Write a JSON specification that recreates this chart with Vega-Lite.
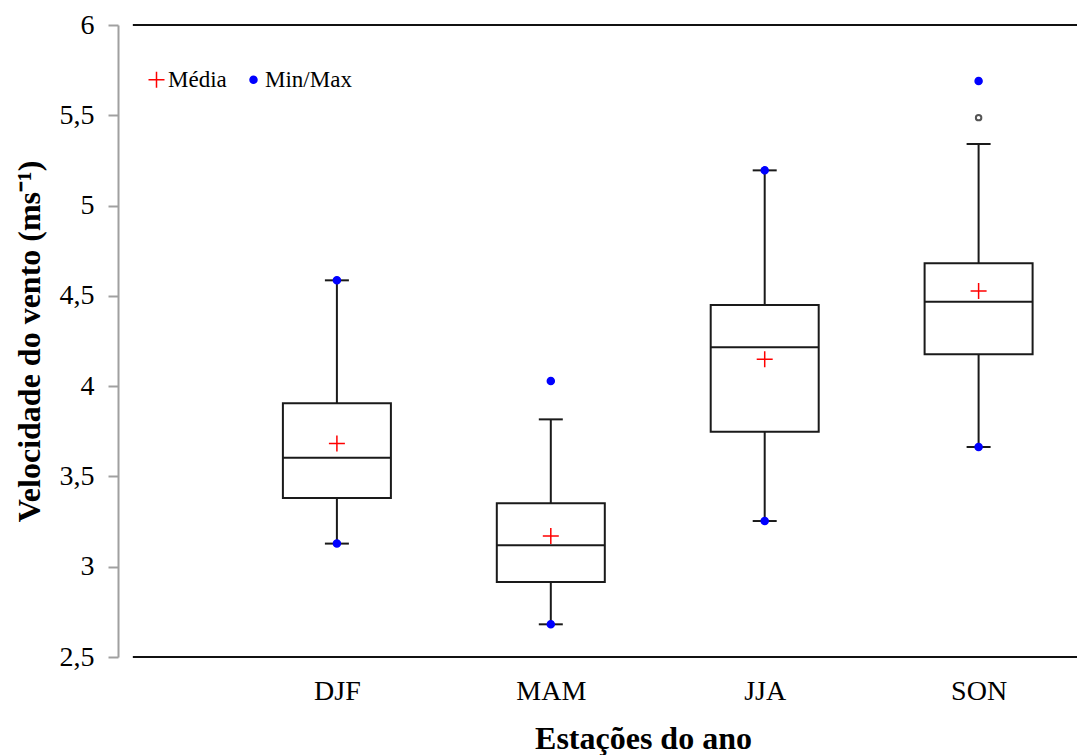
{
  "$schema": "https://vega.github.io/schema/vega-lite/v6.json",
  "autosize": {"type": "none"},
  "width": 964,
  "height": 632,
  "padding": {"left": 118, "top": 25, "right": 0, "bottom": 98},
  "background": "white",
  "config": {
    "view": {"stroke": null},
    "font": "Liberation Serif",
    "tick": {"opacity": 1},
    "axis": {"grid": false, "labelFont": "Liberation Serif", "titleFont": "Liberation Serif", "labelColor": "#000", "titleColor": "#000"},
    "legend": {
      "orient": "none",
      "legendX": 27,
      "legendY": 43,
      "direction": "horizontal",
      "labelFont": "Liberation Serif",
      "labelFontSize": 23,
      "labelColor": "#000",
      "labelOffset": 0,
      "columnPadding": 15,
      "symbolStrokeWidth": 1.5
    }
  },
  "datasets": {
    "boxes": [
      {"season": "DJF", "pos": 1, "lo": 3.128, "q1": 3.381, "med": 3.604, "q3": 3.905, "hi": 4.586},
      {"season": "MAM", "pos": 2, "lo": 2.681, "q1": 2.915, "med": 3.119, "q3": 3.351, "hi": 3.816},
      {"season": "JJA", "pos": 3, "lo": 3.253, "q1": 3.748, "med": 4.215, "q3": 4.449, "hi": 5.195},
      {"season": "SON", "pos": 4, "lo": 3.663, "q1": 4.176, "med": 4.468, "q3": 4.680, "hi": 5.341}
    ],
    "pts": [
      {"pos": 1, "value": 3.682, "kind": "Média"},
      {"pos": 2, "value": 3.170, "kind": "Média"},
      {"pos": 3, "value": 4.149, "kind": "Média"},
      {"pos": 4, "value": 4.527, "kind": "Média"},
      {"pos": 1, "value": 3.128, "kind": "Min/Max"},
      {"pos": 1, "value": 4.586, "kind": "Min/Max"},
      {"pos": 2, "value": 2.681, "kind": "Min/Max"},
      {"pos": 2, "value": 4.028, "kind": "Min/Max"},
      {"pos": 3, "value": 3.253, "kind": "Min/Max"},
      {"pos": 3, "value": 5.195, "kind": "Min/Max"},
      {"pos": 4, "value": 3.663, "kind": "Min/Max"},
      {"pos": 4, "value": 5.690, "kind": "Min/Max"}
    ],
    "outliers": [
      {"pos": 4, "value": 5.487}
    ],
    "frame": [
      {"v": 6},
      {"v": 2.5}
    ]
  },
  "layer": [
    {
      "data": {"name": "frame"},
      "mark": {"type": "rule", "color": "#111", "strokeWidth": 2},
      "encoding": {
        "y": {"field": "v", "type": "quantitative"},
        "x": {"datum": 0.046},
        "x2": {"datum": 4.46}
      }
    },
    {
      "data": {"name": "boxes"},
      "mark": {"type": "rule", "color": "#1a1a1a", "strokeWidth": 2},
      "encoding": {
        "x": {"field": "pos", "type": "quantitative"},
        "y": {"field": "lo", "type": "quantitative"},
        "y2": {"field": "hi"}
      }
    },
    {
      "data": {"name": "boxes"},
      "mark": {"type": "tick", "orient": "horizontal", "size": 24, "thickness": 2, "color": "#1a1a1a", "opacity": 1},
      "encoding": {
        "x": {"field": "pos", "type": "quantitative"},
        "y": {"field": "lo", "type": "quantitative"}
      }
    },
    {
      "data": {"name": "boxes"},
      "mark": {"type": "tick", "orient": "horizontal", "size": 24, "thickness": 2, "color": "#1a1a1a", "opacity": 1},
      "encoding": {
        "x": {"field": "pos", "type": "quantitative"},
        "y": {"field": "hi", "type": "quantitative"}
      }
    },
    {
      "data": {"name": "boxes"},
      "mark": {"type": "bar", "size": 108, "fill": "white", "stroke": "#1a1a1a", "strokeWidth": 2},
      "encoding": {
        "x": {"field": "pos", "type": "quantitative"},
        "y": {"field": "q1", "type": "quantitative"},
        "y2": {"field": "q3"}
      }
    },
    {
      "data": {"name": "boxes"},
      "mark": {"type": "tick", "orient": "horizontal", "size": 108, "thickness": 2, "color": "#1a1a1a", "opacity": 1},
      "encoding": {
        "x": {"field": "pos", "type": "quantitative"},
        "y": {"field": "med", "type": "quantitative"}
      }
    },
    {
      "data": {"name": "outliers"},
      "mark": {"type": "point", "filled": false, "stroke": "#555", "strokeWidth": 2, "size": 30, "opacity": 1},
      "encoding": {
        "x": {"field": "pos", "type": "quantitative"},
        "y": {"field": "value", "type": "quantitative"}
      }
    },
    {
      "data": {"name": "pts"},
      "mark": {"type": "point", "filled": true, "strokeWidth": 1.5, "opacity": 1},
      "encoding": {
        "x": {
          "field": "pos",
          "type": "quantitative",
          "scale": {"domain": [0, 4.46], "nice": false, "zero": false},
          "axis": {
            "values": [1, 2, 3, 4],
            "labelExpr": "['', 'DJF', 'MAM', 'JJA', 'SON'][datum.value]",
            "ticks": false,
            "domain": false,
            "labelFontSize": 28,
            "labelPadding": 20,
            "title": "Estações do ano",
            "titleFontSize": 32,
            "titleFontWeight": "bold",
            "titlePadding": 18,
            "titleX": 525,
            "titleAlign": "center"
          }
        },
        "y": {
          "field": "value",
          "type": "quantitative",
          "scale": {"domain": [2.5, 6], "nice": false, "zero": false},
          "axis": {
            "values": [2.5, 3, 3.5, 4, 4.5, 5, 5.5, 6],
            "format": ".1~f",
            "labelExpr": "replace(datum.label, '.', ',')",
            "domainColor": "#a0a0a0",
            "domainWidth": 2,
            "tickColor": "#a0a0a0",
            "tickWidth": 2,
            "tickSize": 10,
            "labelPadding": 14,
            "labelFontSize": 28,
            "title": "Velocidade do vento (ms⁻¹)",
            "titleFontSize": 32,
            "titleFontWeight": "bold",
            "titlePadding": 13
          }
        },
        "color": {
          "field": "kind",
          "type": "nominal",
          "scale": {"domain": ["Média", "Min/Max"], "range": ["#ff0000", "#0000ff"]},
          "legend": {"title": null}
        },
        "stroke": {
          "field": "kind",
          "type": "nominal",
          "scale": {"domain": ["Média", "Min/Max"], "range": ["#ff0000", "#0000ff"]},
          "legend": {"title": null}
        },
        "shape": {
          "field": "kind",
          "type": "nominal",
          "scale": {"domain": ["Média", "Min/Max"], "range": ["M-1,0H1M0,-1V1", "circle"]},
          "legend": {"title": null}
        },
        "size": {
          "field": "kind",
          "type": "nominal",
          "scale": {"type": "point", "domain": ["Média", "Min/Max"], "range": [256, 49], "padding": 0},
          "legend": {"title": null}
        }
      }
    }
  ]
}
